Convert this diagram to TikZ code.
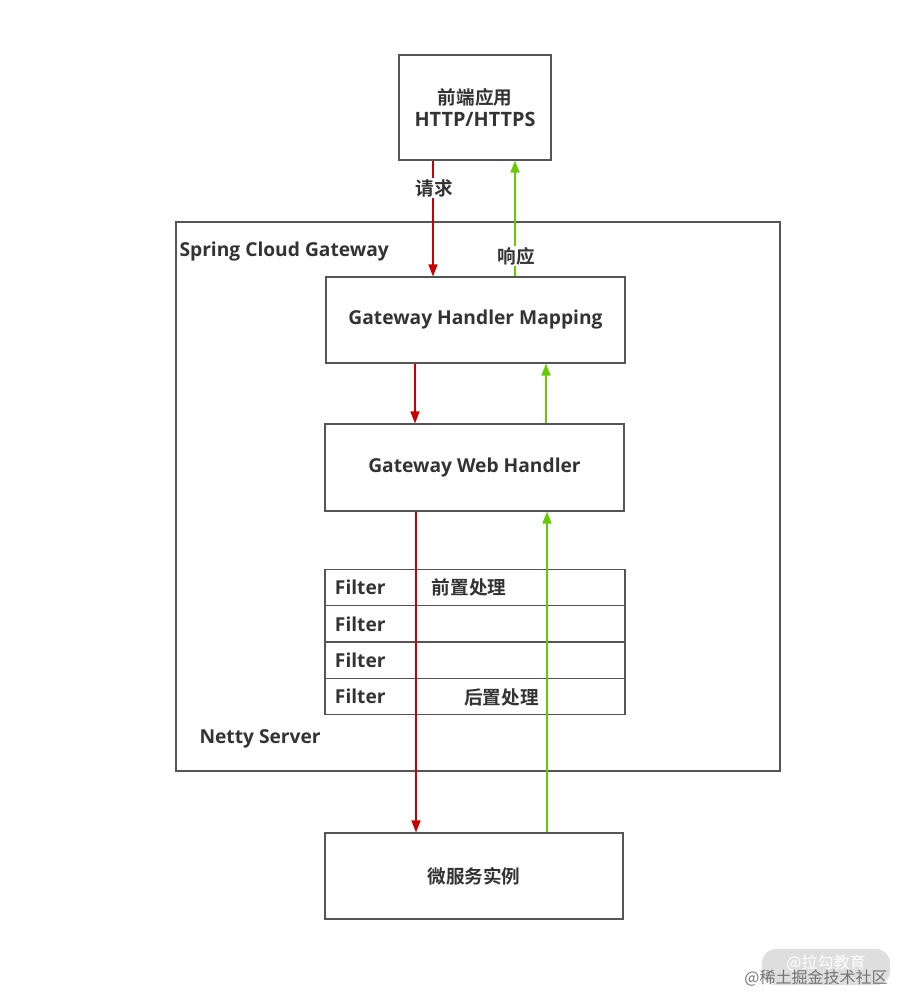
\documentclass[tikz,border=0pt]{standalone}
\usepackage{fontspec}
\setmainfont{Open Sans}
\newfontfamily\cjk{Noto Sans CJK SC}[BoldFont={Noto Sans CJK SC Bold}]
\usetikzlibrary{arrows.meta}
\definecolor{boxgray}{HTML}{555555}
\definecolor{txtgray}{HTML}{333333}
\definecolor{reqred}{HTML}{C80000}
\definecolor{respgreen}{HTML}{66CC00}
\begin{document}
\begin{tikzpicture}[x=1pt, y=-1pt,
    every node/.style={font=\fontsize{19.2}{22}\selectfont\bfseries, text=txtgray},
    zh/.style={font=\fontsize{18.6}{22}\selectfont\cjk\bfseries},
    box/.style={draw=boxgray, line width=1.1pt, inner sep=0pt},
    filterrow/.style={box, minimum width=300, minimum height=36.5},
    reqline/.style={draw=reqred, line width=1.2pt, -{Triangle[length=12pt, width=9pt]}},
    respline/.style={draw=respgreen, line width=1.2pt, -{Triangle[length=12pt, width=9pt]}},
    tag/.style={zh, fill=white, inner sep=1pt}]
  \useasboundingbox (0, 0) rectangle (902, 997);

  \node[box, minimum width=152, minimum height=105, align=center] (front) at (475, 107.5)
    {{\fontsize{18.6}{22}\selectfont\cjk\bfseries 前端应用}\\[0pt]{\fontsize{19.8}{22}\selectfont HTTP/HTTPS}};
  \node[box, minimum width=604, minimum height=549] (gateway) at (478, 496.5) {};
  \node[anchor=west] (sgc) at (176, 252) {Spring Cloud Gateway};
  \node[anchor=west] (netty) at (196, 739) {Netty Server};

  \node[box, minimum width=299, minimum height=86] (ghm) at (475.5, 320) {Gateway Handler Mapping};
  \node[box, minimum width=299, minimum height=87] (gwh) at (474.5, 467.5) {Gateway Web Handler};

  \node[filterrow] (f1) at (475, 587.5) {};
  \node[filterrow] (f2) at (475, 624) {};
  \node[filterrow] (f3) at (475, 660) {};
  \node[filterrow] (f4) at (475, 696.5) {};
  \foreach \r in {f1, f2, f3, f4}
    \node[anchor=west] at ([xshift=7pt]\r.west) {Filter};
  \node[zh] (pre) at (469, 587.5) {前置处理};
  \node[zh] (post) at (501.5, 697.5) {后置处理};

  \node[box, zh, minimum width=298, minimum height=86] (svc) at (474, 876) {微服务实例};

  \coordinate (x1) at (433, 0);
  \coordinate (x2) at (515, 0);
  \coordinate (x3) at (415, 0);
  \coordinate (x4) at (546, 0);
  \coordinate (x5) at (416, 0);
  \coordinate (x6) at (547, 0);

  \draw[reqline] (front.south -| x1) -- (ghm.north -| x1);
  \draw[respline] (ghm.north -| x2) -- (front.south -| x2);
  \node[tag] (req) at (434, 188) {请求};
  \node[tag] (resp) at (516.5, 256) {响应};

  \draw[reqline] (ghm.south -| x3) -- (gwh.north -| x3);
  \draw[respline] (gwh.north -| x4) -- (ghm.south -| x4);
  \draw[reqline] (gwh.south -| x5) -- (svc.north -| x5);
  \draw[respline] (svc.north -| x6) -- (gwh.south -| x6);

  \fill[black!13, rounded corners=14pt] (762, 949) rectangle (890, 985);
  \node[font=\fontsize{16}{18}\selectfont\cjk, text=white] (lagou) at (826, 963) {@拉勾教育};
  \node[font=\fontsize{16}{18}\selectfont\cjk, text=black!55] (juejin) at (816, 978) {@稀土掘金技术社区};
\end{tikzpicture}
\end{document}
